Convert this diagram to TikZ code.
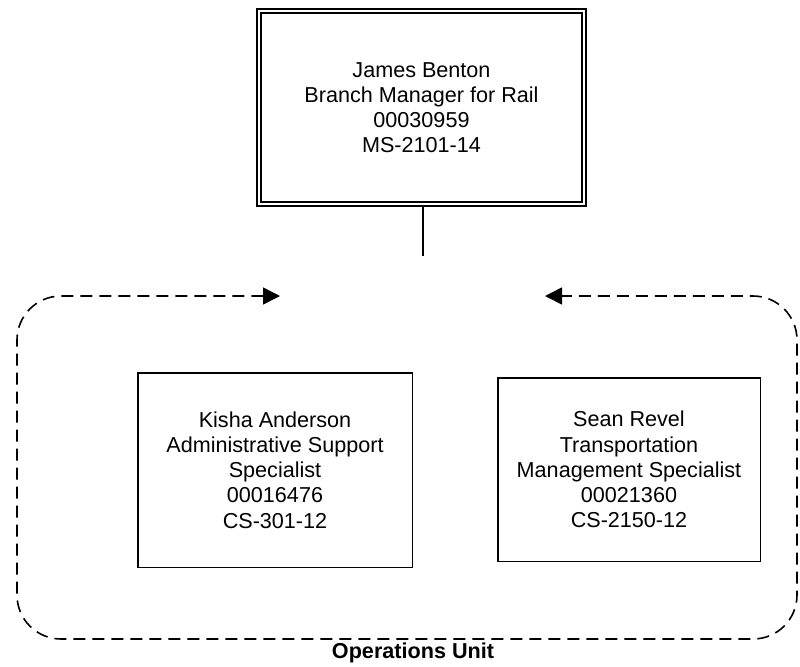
\documentclass[tikz,border=0pt]{standalone}
\usepackage{fontspec}
\setmainfont{Liberation Sans}
\usepackage{tikz}
\usetikzlibrary{arrows.meta}
\tikzstyle{box} = [draw,line width=0.75pt,align=center,inner sep=0pt,font=\fontsize{10.8pt}{12.6pt}\selectfont]
\tikzstyle{head} = [box,line width=0.8pt,double,double distance=1.2pt]
\tikzstyle{unit} = [draw,line width=0.8pt,dash pattern=on 6pt off 3.5pt,rounded corners=22pt]

\begin{document}
\begin{tikzpicture}[x=0.5pt,y=-0.5pt,>={Triangle[length=8.5pt,width=8.5pt]}]
    \useasboundingbox (0,0) rectangle (800,666);

    \node[head,minimum width=162.7pt,minimum height=96.7pt] (benton) at (421.5,107.5)
        {James Benton\\Branch Manager for Rail\\00030959\\MS-2101-14};
    \node[box,minimum width=137.25pt,minimum height=97.25pt] (anderson) at (275,470)
        {Kisha Anderson\\Administrative Support\\Specialist\\00016476\\CS-301-12};
    \node[box,minimum width=131.25pt,minimum height=91.75pt] (revel) at (629,469.5)
        {Sean Revel\\Transportation\\Management Specialist\\00021360\\CS-2150-12};
    \node[font=\fontsize{10.8pt}{12.6pt}\selectfont\bfseries] (unitlbl) at (413,653) {Operations Unit};

    \coordinate (drop) at (423,256);
    \coordinate (la) at (280,296);
    \coordinate (ra) at (545,296);
    \coordinate (nw) at (17,296);
    \coordinate (sw) at (17,639);
    \coordinate (se) at (797,639);
    \coordinate (ne) at (797,296);

    \draw[line width=0.75pt] (benton.south -| drop) -- (drop);
    \draw[unit,<->] (la) -- (nw) -- (sw) -- (se) -- (ne) -- (ra);

\end{tikzpicture}
\end{document}
